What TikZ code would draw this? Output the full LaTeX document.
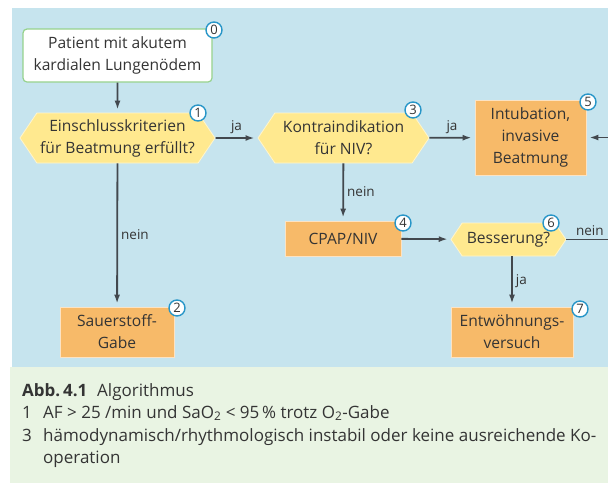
\documentclass[tikz,border=0pt]{standalone}
\usepackage{fontspec}
\setmainfont{Open Sans}
\usetikzlibrary{arrows.meta,shapes.symbols}
\definecolor{bgblue}{RGB}{198,228,238}
\definecolor{capgreen}{RGB}{233,244,227}
\definecolor{boxyellow}{RGB}{255,233,143}
\definecolor{boxorange}{RGB}{247,186,105}
\definecolor{linegray}{RGB}{66,72,78}
\definecolor{txtgray}{RGB}{52,52,52}
\definecolor{badgeblue}{RGB}{40,150,200}
\definecolor{startgreen}{RGB}{150,210,140}

\begin{document}
\begin{tikzpicture}[x=1pt, y=-1pt,
  every node/.style={text=txtgray, font=\fontsize{15.6}{22}\selectfont},
  startbox/.style={rectangle, rounded corners=4pt, draw=startgreen, line width=1.2pt, fill=white, inner sep=0pt, align=center},
  askbox/.style={signal, signal to=west and east, signal pointer angle=112, draw=white!55!boxyellow, line width=0.8pt, fill=boxyellow, inner sep=0pt, align=center},
  actbox/.style={rectangle, draw=white!60!boxorange, line width=0.8pt, fill=boxorange, inner sep=0pt, align=center},
  badge/.style={circle, draw=badgeblue, line width=1.4pt, fill=white, inner sep=0pt, minimum size=16pt, font=\fontsize{13}{13}\selectfont},
  flow/.style={draw=linegray, line width=1.8pt, -{Latex[length=9pt,width=6pt]}, shorten >=3pt},
  lab/.style={font=\fontsize{13.5}{13.5}\selectfont, inner sep=3pt},
  captxt/.style={anchor=base west, inner sep=0pt, font=\fontsize{17}{22}\selectfont}]
  \useasboundingbox (0,0) rectangle (608,483);
  \fill[bgblue] (12,8) rectangle (608,367);
  \fill[capgreen] (10,367) rectangle (608,483);

  \node [startbox, minimum width=189pt, minimum height=53pt] at (117.5, 55.5) (start) {Patient mit akutem\\kardialen Lungenödem};
  \node [askbox, minimum width=195pt, minimum height=50pt] at (117.5, 138) (crit) {Einschlusskriterien\\für Beatmung erfüllt?};
  \node [askbox, minimum width=171pt, minimum height=50pt] at (343.5, 138) (contra) {Kontraindikation\\für NIV?};
  \node [actbox, minimum width=111pt, minimum height=75pt] at (530.5, 137.5) (intub) {Intubation,\\invasive\\Beatmung};
  \node [actbox, minimum width=114pt, minimum height=50pt] at (117, 332) (oxy) {Sauerstoff-\\Gabe};
  \node [actbox, minimum width=116pt, minimum height=35pt] at (343, 238.5) (cpap) {CPAP/NIV};
  \node [askbox, minimum width=115pt, minimum height=33pt] at (508.5, 239.5) (better) {Besserung?};
  \node [actbox, minimum width=122pt, minimum height=50pt] at (512, 332) (wean) {Entwöhnungs-\\versuch};
  \coordinate (outa) at (625, 239.5);
  \coordinate (outb) at (625, 137.5);

  \node [badge] at (214, 30) (b0) {0};
  \node [badge] at (198, 113) (b1) {1};
  \node [badge] at (177, 308) (b2) {2};
  \node [badge] at (413, 110) (b3) {3};
  \node [badge] at (403, 223) (b4) {4};
  \node [badge] at (588, 102) (b5) {5};
  \node [badge] at (551, 223) (b6) {6};
  \node [badge] at (580, 309) (b7) {7};

  \draw [flow] (start) -- (crit);
  \draw [flow] (crit) -- node [lab, above] {ja} (contra);
  \draw [flow] (crit) -- node [lab, right] {nein} (oxy);
  \draw [flow] (contra) -- node [lab, above] {ja} (intub);
  \draw [flow] (contra) -- node [lab, right] {nein} (cpap);
  \draw [flow] (cpap) -- (better);
  \draw [flow] (better.south -| wean.north) -- node [lab, right] {ja} (wean.north);
  \draw [flow] (better.east) -- node [lab, above, pos=0.4] {nein} (outa) -- (outb) -- (intub.east);

  \node [captxt] at (22, 396) (capt) {\textbf{Abb.\,4.1}};
  \node [captxt] at (97, 396) (captb) {Algorithmus};
  \node [captxt] at (22, 418) (cap1) {1};
  \node [captxt] at (43, 418) (cap1t) {AF > 25 /min und SaO\textsubscript{2} < 95\,\% trotz O\textsubscript{2}-Gabe};
  \node [captxt] at (22, 441) (cap3) {3};
  \node [captxt] at (43, 441) (cap3t) {hämodynamisch/rhythmologisch instabil oder keine ausreichende Ko-};
  \node [captxt] at (43, 463) (cap3u) {operation};
\end{tikzpicture}
\end{document}
